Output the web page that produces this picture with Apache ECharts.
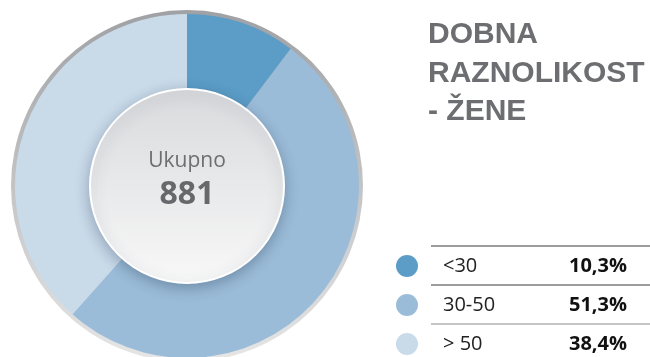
<!DOCTYPE html>
<html>
<head>
<meta charset="utf-8">
<script src="https://cdn.jsdelivr.net/npm/echarts@6/dist/echarts.min.js"></script>
<style>
  html, body { margin: 0; padding: 0; background: #ffffff; }
  #chart { width: 650px; height: 357px; }
</style>
</head>
<body>
<div id="chart"></div>
<script>
// Age groups and their shares (percent)
const categories = ['<30', '30-50', '> 50'];
const shares = [10.3, 51.3, 38.4];
const total = 881;
const titleLines = ['DOBNA', 'RAZNOLIKOST', '- ŽENE'];
const centerLabel = 'Ukupno';

const colors = ['#5b9dc7', '#9bbcd8', '#c9dae9'];
const textGrey = '#6d6e71';
const cx = 187, cy = 186;

const fmt = v => v.toFixed(1).replace('.', ',') + '%';

const chart = echarts.init(document.getElementById('chart'), null, { renderer: 'canvas' });

// Legend table: dot, label, value, with rules above each row
const legendTop = 246, rowH = 39;
const legendGraphics = [];
categories.forEach((c, i) => {
  const y = legendTop + i * rowH;
  legendGraphics.push({
    type: 'line', silent: true,
    shape: { x1: 431, y1: y, x2: 650, y2: y },
    style: { stroke: i === 2 ? '#8a8b8d' : '#3a3a3a', lineWidth: 1 }
  });
  legendGraphics.push({
    type: 'circle', silent: true,
    shape: { cx: 407, cy: y + 20, r: 11 },
    style: { fill: colors[i] }
  });
  legendGraphics.push({
    type: 'text', silent: true, x: 443, y: y + 20,
    style: { text: c, fill: '#222', font: '20px "Open Sans", sans-serif', textVerticalAlign: 'middle' }
  });
  legendGraphics.push({
    type: 'text', silent: true, x: 627, y: y + 20,
    style: { text: fmt(shares[i]), fill: '#111', font: 'bold 20px "Open Sans", sans-serif', textAlign: 'right', textVerticalAlign: 'middle' }
  });
});

const titleGraphics = titleLines.map((t, i) => ({
  type: 'text', silent: true, x: 428, y: 35 + i * 38.5,
  style: { text: t, fill: textGrey, font: 'bold 30px "Liberation Sans", Arial, sans-serif', textVerticalAlign: 'middle' }
}));

chart.setOption({
  animation: false,
  series: [
    {
      // grey bezel behind the ring
      type: 'pie', silent: true, center: [cx, cy], radius: [0, 176],
      label: { show: false }, labelLine: { show: false },
      itemStyle: {
        color: new echarts.graphic.LinearGradient(0, cy - 176, 0, cy + 176, [
          { offset: 0, color: '#9fa1a4' },
          { offset: 1, color: '#e6e6e7' }
        ], true)
      },
      data: [{ value: 1 }]
    },
    {
      type: 'pie', silent: true, center: [cx, cy], radius: [96, 172],
      startAngle: 90, clockwise: true,
      label: { show: false }, labelLine: { show: false },
      itemStyle: { borderWidth: 0 },
      data: categories.map((c, i) => ({ name: c, value: shares[i], itemStyle: { color: colors[i] } }))
    },
    {
      // centre disc
      type: 'pie', silent: true, center: [cx, cy], radius: [0, 97],
      labelLine: { show: false },
      label: {
        show: true, position: 'center',
        padding: [0, 0, 12, 0],
        formatter: () => '{a|' + centerLabel + '}\n{b|' + total + '}',
        rich: {
          a: { fontFamily: '"Open Sans", sans-serif', fontSize: 21, color: textGrey, lineHeight: 30 },
          b: { fontFamily: '"Open Sans", sans-serif', fontSize: 32, fontWeight: 'bold', color: '#67686b', lineHeight: 38 }
        }
      },
      itemStyle: {
        color: new echarts.graphic.LinearGradient(0, cy - 97, 0, cy + 97, [
          { offset: 0, color: '#d9dadd' },
          { offset: 1, color: '#f8f8f8' }
        ], true),
        borderColor: '#ffffff', borderWidth: 2,
        shadowColor: 'rgba(40,60,90,0.35)', shadowBlur: 14, shadowOffsetY: 4
      },
      data: [{ value: 1 }]
    }
  ],
  graphic: titleGraphics.concat(legendGraphics)
});
</script>
</body>
</html>
